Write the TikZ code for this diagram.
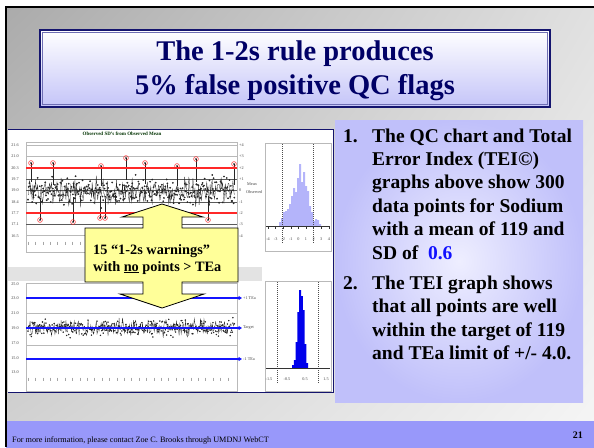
\documentclass[tikz,border=0pt]{standalone}
\usepackage{fontspec}
\setmainfont{Liberation Serif}
\usetikzlibrary{arrows.meta,shadings}
\definecolor{navytxt}{RGB}{0,0,102}
\definecolor{navyline}{RGB}{20,20,110}
\definecolor{titleinner}{RGB}{110,110,180}
\definecolor{titlebot}{RGB}{196,196,248}
\definecolor{lavout}{RGB}{192,192,250}
\definecolor{lavin}{RGB}{238,238,255}
\definecolor{foot1}{RGB}{152,152,250}
\definecolor{foot2}{RGB}{210,210,255}
\definecolor{calloutyellow}{RGB}{255,255,153}
\definecolor{redline}{RGB}{255,40,40}
\definecolor{blueline}{RGB}{20,20,255}
\definecolor{histlight}{RGB}{180,180,250}
\definecolor{histdark}{RGB}{0,0,235}
\definecolor{numblue}{RGB}{16,16,255}
\tikzset{
  tiny/.style={font=\fontsize{4.2}{5}\selectfont, inner sep=0pt, text=black!75},
  frame/.style={draw=gray!55, line width=0.8pt},
  bodyline/.style={anchor=base west, inner sep=0pt, font=\fontsize{19.5}{23}\selectfont\bfseries},
  calltext/.style={anchor=base west, inner sep=0pt, font=\fontsize{14.3}{17}\selectfont\bfseries},
  titletext/.style={anchor=base, inner sep=0pt, text=navytxt, font=\fontsize{28.5}{33}\selectfont\bfseries}
}
\begin{document}
\begin{tikzpicture}[x=1pt,y=-1pt]
\useasboundingbox (0,0) rectangle (594,447);
\fill[white] (0,0) rectangle (594,447);
% slide background
\shade[upper left=black!33, upper right=black!12, lower left=black!18, lower right=black!4] (6,7) rectangle (594,421);
% footer band
\shade[left color=foot1, middle color=foot2, right color=foot1] (6,421) rectangle (594,447);
% black borders
\draw[line width=1.6pt] (5,7) -- (594,7);
\draw[line width=1.8pt] (6,7) -- (6,447);

% title box
\shade[top color=white, bottom color=titlebot] (40,30) rectangle (550,107);
\draw[navyline, line width=2pt] (40,30) rectangle (550,107);
\draw[titleinner, line width=0.6pt] (42.6,32.6) rectangle (547.4,104.4);
\node[titletext] (title1) at (295,60.5) {The 1-2s rule produces};
\node[titletext] (title2) at (295,94.5) {5\% false positive QC flags};

% chart panel
\fill[white] (8,129) rectangle (333,392);
\fill[gray!22] (8,267) rectangle (262,281);
\draw[navyline, line width=1pt] (8,129) -- (333,129) -- (333,392) -- (8,392);

% ---------- top chart ----------
\node[font=\fontsize{5}{6}\selectfont\bfseries, text=black!80!green, inner sep=0pt] (ctitle) at (122,134) {Observed SD's from Observed Mean};
\draw[frame] (26,142) rectangle (237,252);
\foreach \yy in {145.3,156.6,235.7} \draw[gray!55, line width=0.6pt] (26,\yy) -- (237,\yy);
\foreach \yy in {179.2,190.5,201.8,224.4} \draw[black!65, line width=0.5pt] (26,\yy) -- (237,\yy);
\foreach \lab/\yy [count=\i] in {21.6/145.3,21.0/156.6,20.3/167.9,19.7/179.2,19.0/190.5,18.4/201.8,17.7/213.1,17.1/224.4,16.5/235.7}
  \node[tiny] (yl\i) at (15,\yy) {\lab};
\foreach \lab/\yy [count=\i] in {+4/145.3,+3/156.6,+2/167.9,+1/179.2,0/190.5,-1/201.8,-2/213.1,-3/224.4,-4/235.7}
  \node[tiny, anchor=west] (yr\i) at (239,\yy) {\lab};
\node[tiny, anchor=west] (meanl) at (247,184) {Mean};
\node[tiny, anchor=west] (obsl) at (246,192) {Observed};
\foreach \xx in {28,35.4,...,234} \draw[gray!70, line width=0.4pt] (\xx,241.5) -- (\xx,244.5);
\pgfmathsetseed{11}
\draw[black!85, line width=0.3pt] plot[domain=0:299, samples=300, mark=*, mark size=0.7pt] ({28+0.69*\x},{191-6.5*(rand+rand+rand)});
% flagged points
\foreach \px/\py/\qy in {31/163/182,53/163/185,101/166/186,126/158/180,145/163/184,177/166/186,196/159/182,234/164/185,40/220/198,73/222/197,100/218/196,105/218/199,208/220/196}{
  \draw[black!85, line width=0.3pt] (\px,\py) -- (\px,\qy);
  \fill[black] (\px,\py) circle (0.9pt);
  \draw[redline, line width=0.5pt] (\px,\py) circle (2.4pt);
}
\draw[redline, line width=1.3pt] (26,167.9) -- (237,167.9);
\draw[redline, line width=1.3pt] (26,213.1) -- (237,213.1);

% top histogram
\draw[frame] (265,143) rectangle (331,251);
\fill[histlight] (279,226) foreach \h [count=\i from 0] in {4,8,14,15,17,22,30,38,34,48,62,44,54,40,35,20,14,5,7,6,2} { -- ({279+2*\i},{226-\h}) -- ({281+2*\i},{226-\h}) } -- (321,226) -- cycle;
\draw[black!70, line width=0.5pt, dash pattern=on 1pt off 1pt] (282,144) -- (282,243);
\draw[black!70, line width=0.5pt, dash pattern=on 1pt off 1pt] (313,144) -- (313,243);
\draw[black!80, line width=0.5pt] (266,226) -- (330,226);
\foreach \lab [count=\i from 0] in {-4,-3,-2,-1,0,1,2,3,4} {
  \draw[black!80, line width=0.4pt] ({268+7.6*\i},226) -- ({268+7.6*\i},229);
  \node[tiny] (hx\i) at ({268+7.6*\i},239) {\lab};
}

% ---------- bottom chart ----------
\draw[frame] (26,283) rectangle (237,391);
\draw[gray!55, line width=0.6pt] (26,313) -- (237,313);
\draw[gray!55, line width=0.6pt] (26,345) -- (237,345);
\foreach \lab/\yy [count=\i] in {25.0/284,23.0/298,21.0/313,19.0/328,17.0/343,15.0/358,13.0/372}
  \node[tiny] (bl\i) at (15,\yy) {\lab};
\foreach \xx in {28,35.4,...,234} \draw[gray!70, line width=0.4pt] (\xx,377.5) -- (\xx,380.5);
\draw[black!85, line width=0.3pt] plot[domain=0:299, samples=300, mark=*, mark size=0.55pt] ({28+0.69*\x},{328-4*(rand+rand+rand)});
\draw[blueline, line width=1.3pt, -{Triangle[length=3.5pt,width=4pt]}] (26,298) -- (242,298);
\draw[blueline, line width=1.3pt, -{Triangle[length=3.5pt,width=4pt]}] (26,328) -- (242,328);
\draw[blueline, line width=1.3pt, -{Triangle[length=3.5pt,width=4pt]}] (26,359) -- (242,359);
\node[tiny, anchor=west] (tea1) at (243,298) {+1 TEa};
\node[tiny, anchor=west] (targ) at (243,328) {Target};
\node[tiny, anchor=west] (tea2) at (243,359) {-1 TEa};

% bottom histogram
\draw[frame] (265,281) rectangle (331,391);
\fill[histdark] (292,368) foreach \h [count=\i from 0] in {3,8,26,56,78,72,58,24,5} { -- ({292+1.8*\i},{368-\h}) -- ({293.8+1.8*\i},{368-\h}) } -- (308.2,368) -- cycle;
\draw[black!70, line width=0.5pt, dash pattern=on 1pt off 1pt] (277,282) -- (277,384);
\draw[black!70, line width=0.5pt, dash pattern=on 1pt off 1pt] (318,282) -- (318,384);
\draw[black!80, line width=0.5pt] (266,368) -- (330,368);
\foreach \lab/\xx [count=\i] in {-1.5/269,-0.5/287,0.5/305,1.5/326}
  \node[tiny] (bx\i) at (\xx,379) {\lab};

% ---------- callout double arrow ----------
\draw[fill=calloutyellow, line width=0.8pt, line join=miter]
  (162,204) -- (203,217) -- (182,217) -- (182,228) -- (238,228) -- (238,282) -- (182,282) -- (182,294)
  -- (204,294) -- (162,308) -- (120,294) -- (143,294) -- (143,282) -- (85,282) -- (85,228) -- (143,228)
  -- (143,217) -- (122,217) -- cycle;
\node[calltext] (call1) at (93,254) {15 “1-2s warnings”};
\node[calltext] (call2) at (93,271) {with \underline{no} points > TEa};

% ---------- text box ----------
\shade[inner color=lavin, outer color=lavout] (335,120) rectangle (583,402);
\node[bodyline] (n1) at (343,142) {1.};
\node[bodyline] (a1) at (372,142) {The QC chart and Total};
\node[bodyline] (a2) at (372,165) {Error Index (TEI©)};
\node[bodyline] (a3) at (372,188.5) {graphs above show 300};
\node[bodyline] (a4) at (372,212) {data points for Sodium};
\node[bodyline] (a5) at (372,235.5) {with a mean of 119 and};
\node[bodyline] (a6) at (372,259) {SD of \ \textcolor{numblue}{0.6}};
\node[bodyline] (n2) at (343,289) {2.};
\node[bodyline] (b1) at (372,289) {The TEI graph shows};
\node[bodyline] (b2) at (372,312.5) {that all points are well};
\node[bodyline] (b3) at (372,336) {within the target of 119};
\node[bodyline] (b4) at (372,359.5) {and TEa limit of +/- 4.0.};

% footer
\node[anchor=base west, inner sep=0pt, font=\fontsize{8.2}{10}\selectfont] (foot) at (12,442) {For more information, please contact Zoe C. Brooks through UMDNJ WebCT};
\node[anchor=base east, inner sep=0pt, font=\fontsize{10}{12}\selectfont\bfseries] (pnum) at (583,438) {21};
\end{tikzpicture}
\end{document}
